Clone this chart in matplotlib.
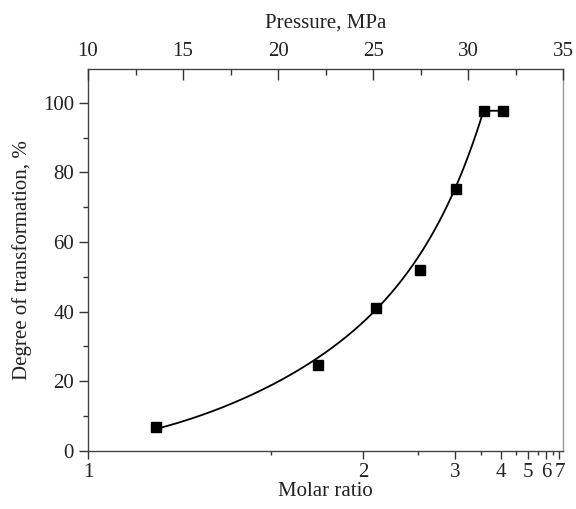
import numpy as np
import matplotlib
matplotlib.use("Agg")
import matplotlib.pyplot as plt
from matplotlib.ticker import FixedLocator, MultipleLocator, NullFormatter

plt.rcParams['font.family'] = ['Liberation Serif', 'DejaVu Serif']

# measured points (molar ratio, degree of transformation %)
ratio = [1.14, 1.72, 2.10, 2.52, 3.02, 3.58, 4.08]
degree = [6.9, 24.6, 41.1, 52.0, 75.3, 97.7, 97.7]

# fitted curve as drawn in the original
curve_ratio = [1.146, 1.228, 1.326, 1.442, 1.580, 1.805, 2.10, 2.311, 2.523,
               2.732, 3.022, 3.273, 3.41, 3.519, 3.578]
curve_degree = [6.4, 9.3, 12.2, 16.5, 21.8, 31.0, 41.2, 47.1, 55.5,
                64.9, 75.2, 85.9, 92.6, 97.4, 97.7]
# straight end segment between the last two points
end_ratio = [3.578, 4.08]
end_degree = [97.7, 97.7]

x_major = [1, 2, 3, 4, 5, 6, 7]
x_minor = [1.5, 2.5, 3.5, 4.5, 5.5, 6.5]
top_major = [10, 15, 20, 25, 30, 35]


def fwd(x):
    x = np.asarray(x, dtype=float)
    with np.errstate(divide='ignore', invalid='ignore'):
        return 1.0 - 1.0 / x


def inv(y):
    y = np.asarray(y, dtype=float)
    with np.errstate(divide='ignore', invalid='ignore'):
        return 1.0 / (1.0 - y)


# smooth least-squares fit of the read curve, in axis space (u = 1 - 1/x)
u_pts = fwd(curve_ratio)
coef = np.polyfit(u_pts, np.log(np.asarray(curve_degree)), 3)
u_dense = np.linspace(u_pts[0], u_pts[-2], 300)
fit_ratio = np.append(inv(u_dense), end_ratio)
fit_degree = np.append(np.exp(np.polyval(coef, u_dense)), end_degree)

fig = plt.figure(figsize=(5.76, 5.09), dpi=100)
ax = fig.add_axes([88 / 576, 1 - 450.7 / 509, (563.3 - 88) / 576, (450.7 - 69) / 509])

ax.set_xscale('function', functions=(fwd, inv))
ax.set_xlim(1, 7.36)
ax.set_ylim(0, 109.7)

ax.plot(fit_ratio, fit_degree, color='black', lw=1.3, zorder=2)
ax.plot(ratio, degree, linestyle='none', marker='s', ms=7, color='black', zorder=3)

ax.xaxis.set_major_locator(FixedLocator(x_major))
ax.xaxis.set_minor_locator(FixedLocator(x_minor))
ax.set_xticklabels([str(v) for v in x_major])
ax.xaxis.set_minor_formatter(NullFormatter())
ax.yaxis.set_major_locator(MultipleLocator(20))
ax.yaxis.set_minor_locator(MultipleLocator(10))

ax.tick_params(axis='both', which='both', direction='out', labelsize=15, width=1,
               colors='#333333', labelcolor='#222222')
ax.tick_params(axis='y', which='major', length=6.5)
ax.tick_params(axis='y', which='minor', length=3.5)
ax.tick_params(axis='x', which='major', length=5.5)
ax.tick_params(axis='x', which='minor', length=3)
ax.tick_params(axis='y', right=False)
ax.tick_params(axis='x', top=False)

for s in ax.spines.values():
    s.set_linewidth(1.0)
ax.spines['right'].set_color('#999999')
ax.spines['left'].set_color('#444444')
ax.spines['bottom'].set_color('#444444')
ax.spines['top'].set_color('#444444')

ax.set_xlabel('Molar ratio', fontsize=15, color='#222222', labelpad=0)
ax.set_ylabel('Degree of transformation, %', fontsize=15, color='#222222', labelpad=8)

ax2 = ax.twiny()
ax2.set_xlim(10, 35)
ax2.xaxis.set_major_locator(FixedLocator(top_major))
ax2.xaxis.set_minor_locator(MultipleLocator(2.5))
ax2.tick_params(axis='x', which='both', direction='in', labelsize=15, colors='#333333',
                labelcolor='#222222', width=1)
ax2.tick_params(which='major', length=8, pad=6)
ax2.tick_params(which='minor', length=4)
ax2.set_xlabel('Pressure, MPa', fontsize=15, color='#222222', labelpad=10)
for s in ax2.spines.values():
    s.set_visible(False)

fig.savefig('out.png', dpi=100)
